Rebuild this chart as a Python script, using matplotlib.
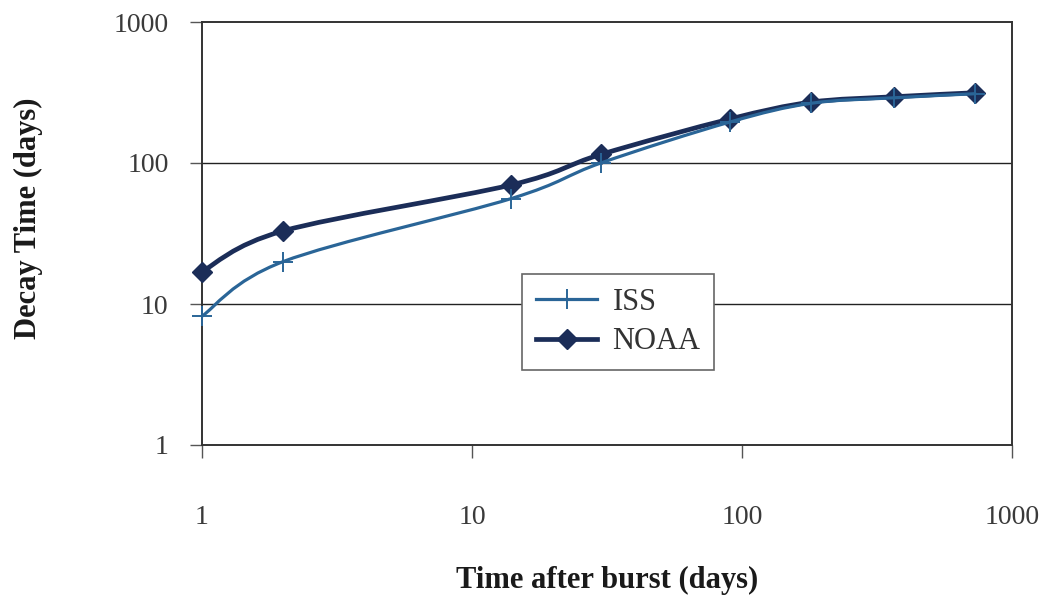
import matplotlib
matplotlib.use("Agg")
import matplotlib.pyplot as plt
import numpy as np
from matplotlib.path import Path
from matplotlib.patches import PathPatch
from matplotlib.lines import Line2D
from matplotlib.ticker import FixedLocator, NullLocator, FixedFormatter

days = [1, 2, 14, 30, 90, 180, 365, 730]
iss = [8.2, 20, 56, 100, 195, 265, 290, 310]
noaa = [17, 33, 70, 115, 205, 270, 295, 315]
ticks = [1, 10, 100, 1000]
tick_labels = ["1", "10", "100", "1000"]

plt.rcParams['font.family'] = ['Liberation Serif', 'DejaVu Serif']

fig = plt.figure(figsize=(10.44, 6), dpi=100)
ax = fig.add_axes([202/1044, 1-445/600, 810/1044, 423/600])

ax.set_xscale('log')
ax.set_yscale('log')
ax.set_xlim(1, 1000)
ax.set_ylim(1, 1000)


def smooth_path(x, y):
    # Excel-style smoothed line: cubic Bezier segments in log-log space
    lx = np.log10(np.asarray(x, float))
    ly = np.log10(np.asarray(y, float))
    n = len(lx)
    verts = [(lx[0], ly[0])]
    codes = [Path.MOVETO]
    for i in range(n - 1):
        i0 = max(i - 1, 0)
        i3 = min(i + 2, n - 1)
        c1 = (lx[i] + (lx[i + 1] - lx[i0]) / 6, ly[i] + (ly[i + 1] - ly[i0]) / 6)
        c2 = (lx[i + 1] - (lx[i3] - lx[i]) / 6, ly[i + 1] - (ly[i3] - ly[i]) / 6)
        verts += [c1, c2, (lx[i + 1], ly[i + 1])]
        codes += [Path.CURVE4] * 3
    verts = [(10 ** a, 10 ** b) for a, b in verts]
    return Path(verts, codes)


for v in [10, 100]:
    ax.axhline(v, color='#222222', lw=1.0, zorder=1)

noaa_c = '#1b2d58'
iss_c = '#2a6597'

ax.add_patch(PathPatch(smooth_path(days, noaa), facecolor='none', edgecolor=noaa_c,
                       lw=3.4, zorder=3, capstyle='round', joinstyle='round'))
ax.plot(days, noaa, ls='none', marker='D', ms=10.5, color=noaa_c, zorder=3.5,
        clip_on=False)
ax.add_patch(PathPatch(smooth_path(days, iss), facecolor='none', edgecolor=iss_c,
                       lw=2.3, zorder=4, capstyle='round', joinstyle='round'))
ax.plot(days, iss, ls='none', marker='+', ms=14, mew=1.4, color=iss_c, zorder=4.5,
        clip_on=False)

for a in (ax.xaxis, ax.yaxis):
    a.set_major_locator(FixedLocator(ticks))
    a.set_major_formatter(FixedFormatter(tick_labels))
    a.set_minor_locator(NullLocator())

ax.tick_params(direction='out', length=9, width=1, colors='#555555',
               labelsize=20, labelcolor='#3a3a3a')
ax.tick_params(axis='x', pad=34)
ax.tick_params(axis='y', pad=15)
for s in ax.spines.values():
    s.set_color('#333333')
    s.set_linewidth(1.4)

ax.set_xlabel('Time after burst (days)', fontsize=22, fontweight='bold',
              color='#1a1a1a', labelpad=26)
ax.set_ylabel('Decay Time (days)', fontsize=22, fontweight='bold',
              color='#1a1a1a')
ax.yaxis.set_label_coords(-0.196, 0.535)

handles = [
    Line2D([], [], color=iss_c, lw=2.3, marker='+', ms=14, mew=1.4),
    Line2D([], [], color=noaa_c, lw=3.4, marker='D', ms=10.5),
]
leg = ax.legend(handles, ['ISS', 'NOAA'], loc='center', bbox_to_anchor=(0.514, 0.291),
                fontsize=22, frameon=True, fancybox=False, framealpha=1,
                edgecolor='#666666', handlelength=2.0, handletextpad=0.5,
                labelspacing=0.35, borderpad=0.45)
leg.get_frame().set_linewidth(1.2)
for t in leg.get_texts():
    t.set_color('#333333')

fig.savefig('out.png', dpi=100)
